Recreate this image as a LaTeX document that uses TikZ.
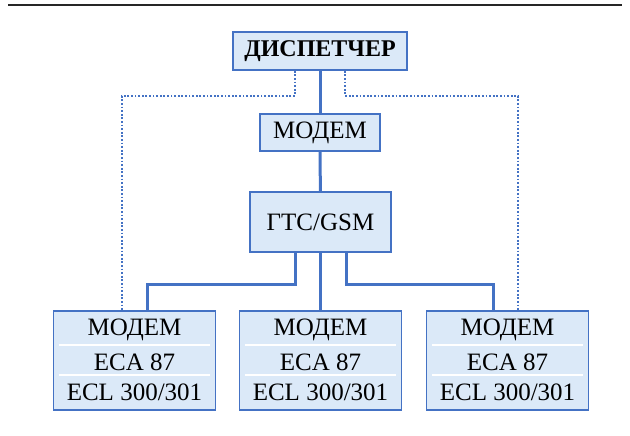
\documentclass[tikz,border=0pt]{standalone}
\usepackage{fontspec}
\setmainfont{Liberation Serif}
\usepackage{tikz}
\usetikzlibrary{positioning,calc}
\definecolor{boxFill}{RGB}{219,233,248}
\definecolor{boxBlue}{RGB}{68,114,196}

\begin{document}
\begin{tikzpicture}[x=0.5pt, y=-0.5pt,
    every node/.style={font=\fontsize{12.5}{15}\selectfont},
    unit/.style={draw=boxBlue, line width=0.8pt, fill=boxFill, inner sep=0pt},
    link/.style={boxBlue, line width=1.5pt},
    ctrl/.style={boxBlue, line width=0.7pt, dash pattern=on 0.9pt off 0.9pt},
    sep/.style={white, line width=1pt}]
  \useasboundingbox (0,0) rectangle (630,435);
  % Rule at the top
  \draw[line width=1pt, black!85] (8,5) -- (622,5);
  % Upper chain
  \node[unit, minimum width=87pt, minimum height=19pt, font=\fontsize{12}{15}\selectfont\bfseries]
    (disp) at (320,51) {ДИСПЕТЧЕР};
  \node[unit, minimum width=60pt, minimum height=18.5pt]
    (modem) at (320,132.5) {МОДЕМ};
  \node[unit, minimum width=70.5pt, minimum height=30pt]
    (gsm) at (320.5,222) {ГТС/GSM};
  % Controller stations
  \foreach \i/\x in {1/134.5, 2/320.5, 3/507.5} {
    \node[unit, minimum width=81pt, minimum height=49.5pt] (st\i) at (\x,360.5) {};
    \node (st\i a) at (\x,330) {МОДЕМ};
    \node (st\i b) at (\x,362) {ECA 87};
    \node (st\i c) at (\x,392) {ECL 300/301};
    \draw[sep] ($(st\i.north west)+(6,35)$) -- ($(st\i.north east)+(-6,35)$);
    \draw[sep] ($(st\i.north west)+(6,65)$) -- ($(st\i.north east)+(-6,65)$);
  }
  % Telephone links
  \draw[link] (disp) -- (modem);
  \draw[link] (modem) -- (gsm);
  \draw[link] ($(gsm.south)+(-25.5,0)$) -- ++(0,32) -| ($(st1.north)+(12.5,0)$);
  \draw[link] (gsm.south) -- (st2.north);
  \draw[link] ($(gsm.south)+(25.5,0)$) -- ++(0,32) -| ($(st3.north)+(-14.5,0)$);
  % Dispatch links
  \draw[ctrl] ($(disp.south)+(-25,0)$) -- ++(0,25) -| ($(st1.north)+(-12.5,0)$);
  \draw[ctrl] ($(disp.south)+(25,0)$) -- ++(0,25) -| ($(st3.north)+(10.5,0)$);
\end{tikzpicture}
\end{document}
